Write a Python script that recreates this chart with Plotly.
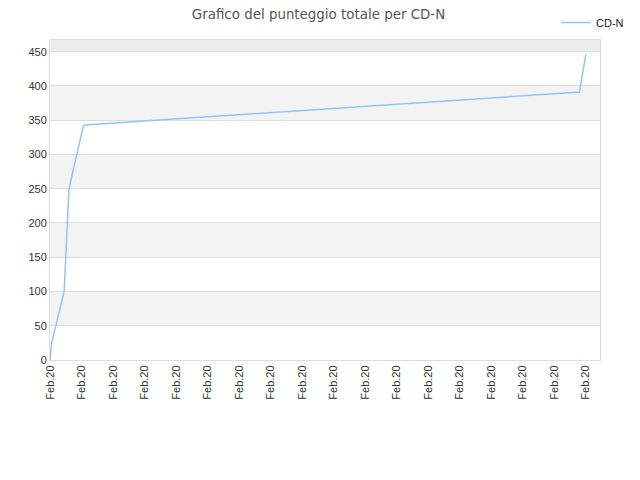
import plotly.graph_objects as go

# punti (indice del punto, punteggio totale)
punti = [0, 1, 2, 3, 5, 6, 8, 9, 10, 11, 12, 14, 15, 17, 19, 20, 21, 22,
         40, 60, 80, 100, 120, 140, 160, 180, 200, 220, 240, 260, 280, 300,
         320, 336, 337, 338, 340]
punteggio = [0, 24, 34, 44, 60, 71, 90, 100, 150, 200, 248, 270, 280, 300,
             321, 333, 340, 343,
             346, 349, 352, 355, 358, 361, 364, 367, 370, 373, 376, 379,
             382, 385, 388, 391, 405, 418, 446]

tick_pos = list(range(0, 341, 20))
tick_lbl = ["Feb.20"] * len(tick_pos)

serie = "CD-N"
titolo = "Grafico del punteggio totale per CD-N"

fig = go.Figure()

# bande alternate di sfondo
for y0, y1, col in [(50, 100, "#f3f3f3"), (150, 200, "#f3f3f3"),
                    (250, 300, "#f3f3f3"), (350, 400, "#f3f3f3"),
                    (450, 467, "#eeeeee")]:
    fig.add_shape(type="rect", xref="paper", yref="y", x0=0, x1=1, y0=y0, y1=y1,
                  fillcolor=col, line=dict(width=0), layer="below")

fig.add_trace(go.Scatter(x=punti, y=punteggio, mode="lines", name=serie,
                         line=dict(color="#92c5f5", width=1.5)))

# la pagina aggiunge 8px di margine: figura 632x472
fig.update_layout(
    width=632, height=472,
    autosize=False,
    margin=dict(l=42, r=40, t=32, b=120, autoexpand=False),
    plot_bgcolor="white",
    paper_bgcolor="white",
    font=dict(family="Liberation Sans, Arial", size=11, color="#333333"),
    title=dict(text=titolo, x=0.4913, xanchor="center",
               xref="container", yref="container", y=0.986, yanchor="middle",
               font=dict(family="DejaVu Sans", size=13.4, color="#555555")),
    xaxis=dict(
        range=[0, 349], automargin=False,
        tickmode="array", tickvals=tick_pos, ticktext=tick_lbl,
        tickangle=-90,
        showgrid=False, zeroline=False,
        showline=True, linecolor="#dddddd", linewidth=1, mirror=True,
        ticks="", fixedrange=True,
    ),
    yaxis=dict(
        range=[0, 467], automargin=False,
        tickmode="array", tickvals=list(range(0, 451, 50)),
        showgrid=True, gridcolor="#dddddd", gridwidth=1,
        zeroline=False,
        showline=True, linecolor="#dddddd", linewidth=1, mirror=True,
        ticks="", fixedrange=True,
    ),
    showlegend=True,
    legend=dict(
        xref="container", yref="container",
        x=0.9826, xanchor="right", y=1.023, yanchor="top",
        font=dict(size=11, color="#222222"),
        bgcolor="rgba(0,0,0,0)",
    ),
)

fig.write_html("out.html")
